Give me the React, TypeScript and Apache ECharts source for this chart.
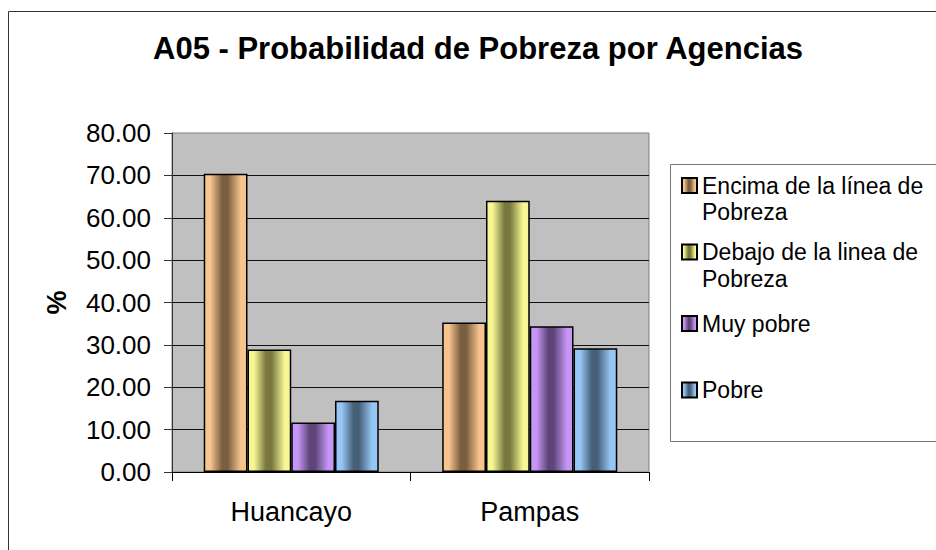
import React, { useEffect, useRef } from "react";
import * as echarts from "echarts";

const categories = ["Huancayo", "Pampas"];
const seriesNames = [
  "Encima de la línea de Pobreza",
  "Debajo de la linea de Pobreza",
  "Muy pobre",
  "Pobre",
];
const legendLabels = [
  "Encima de la línea de\nPobreza",
  "Debajo de la linea de\nPobreza",
  "Muy pobre",
  "Pobre",
];
const encimaValues = [70.4, 35.3];
const debajoValues = [28.9, 64.0];
const muyPobreValues = [11.7, 34.4];
const pobreValues = [16.8, 29.2];
const yTicks = { min: 0, max: 80, interval: 10 };

const FONT = "'Liberation Sans', Arial, sans-serif";

const palette = [
  ["#F7C48E", "#7A5E40"],
  ["#F6F694", "#77773F"],
  ["#C596F5", "#5E4578"],
  ["#96C6F6", "#466078"],
];

function grad(light: string, dark: string) {
  return new echarts.graphic.LinearGradient(0, 0, 1, 0, [
    { offset: 0, color: light },
    { offset: 0.14, color: light },
    { offset: 0.42, color: dark },
    { offset: 0.55, color: dark },
    { offset: 0.86, color: light },
    { offset: 1, color: light },
  ]);
}

export default function App() {
  const ref = useRef<HTMLDivElement>(null);
  useEffect(() => {
    if (!ref.current) return;
    const chart = echarts.init(ref.current, null, { renderer: "svg" });
    const data = [encimaValues, debajoValues, muyPobreValues, pobreValues];
    const legendCenters = [185.5, 252, 323.5, 390];
    const LH = 26.5;
    const isTwoLine = (s: string) => s.indexOf("\n") >= 0;
    chart.setOption({
      animation: false,
      backgroundColor: "#fff",
      title: {
        text: "A05 - Probabilidad de Pobreza por Agencias",
        left: 153,
        top: 33,
        padding: 0,
        textStyle: { fontFamily: FONT, fontSize: 31, fontWeight: "bold", color: "#000" },
      },
      graphic: [
        {
          type: "rect",
          z: -10,
          silent: true,
          shape: { x: 8.5, y: 11.5, width: 1000, height: 600 },
          style: { fill: "none", stroke: "#333", lineWidth: 1 },
        },
        {
          type: "rect",
          z: -5,
          silent: true,
          shape: { x: 670.5, y: 164.5, width: 400, height: 277 },
          style: { fill: "#fff", stroke: "#777", lineWidth: 1 },
        },
      ],
      legend: seriesNames.map((n, i) => {
        const two = isTwoLine(legendLabels[i]);
        return {
          data: [n],
          orient: "vertical",
          left: 681,
          top: two ? legendCenters[i] - (3 * LH) / 2 : legendCenters[i] - LH / 2,
          padding: 0,
          itemGap: 0,
          itemWidth: 15,
          itemHeight: 15,
          icon: "rect",
          selectedMode: false,
          formatter: () => (two ? " \n" + legendLabels[i] : legendLabels[i]),
          textStyle: {
            fontFamily: FONT,
            fontSize: 23,
            lineHeight: LH,
            color: "#000",
          },
        };
      }),
      grid: {
        left: 172,
        right: 287,
        top: 133,
        bottom: 78,
        show: true,
        backgroundColor: "#C0C0C0",
        borderColor: "#808080",
        borderWidth: 1,
      },
      xAxis: {
        type: "category",
        data: categories,
        boundaryGap: true,
        axisLine: { lineStyle: { color: "#000", width: 1 } },
        axisTick: { show: true, alignWithLabel: false, length: 9, lineStyle: { color: "#000" } },
        axisLabel: { fontFamily: FONT, fontSize: 27, color: "#000", margin: 26 },
      },
      yAxis: {
        type: "value",
        min: yTicks.min,
        max: yTicks.max,
        interval: yTicks.interval,
        name: "%",
        nameLocation: "middle",
        nameGap: 102,
        nameTextStyle: { fontFamily: FONT, fontSize: 27, fontWeight: "bold", color: "#000" },
        axisLine: { show: true, lineStyle: { color: "#333", width: 1 } },
        axisTick: { show: true, length: 8, lineStyle: { color: "#333" } },
        axisLabel: {
          fontFamily: FONT,
          fontSize: 26,
          color: "#000",
          margin: 21,
          formatter: (v: number) => v.toFixed(2),
        },
        splitLine: { show: true, showMaxLine: false, lineStyle: { color: "#111", width: 1 } },
      },
      series: seriesNames.map((n, i) => ({
        name: n,
        type: "bar",
        data: data[i],
        barGap: "0%",
        barCategoryGap: "26.6%",
        itemStyle: {
          color: grad(palette[i][0], palette[i][1]),
          borderColor: "#000",
          borderWidth: 1.5,
        },
      })),
    });
    return () => chart.dispose();
  }, []);
  return (
    <div
      ref={ref}
      style={{ position: "fixed", left: 0, top: 0, width: 936, height: 550 }}
    />
  );
}
